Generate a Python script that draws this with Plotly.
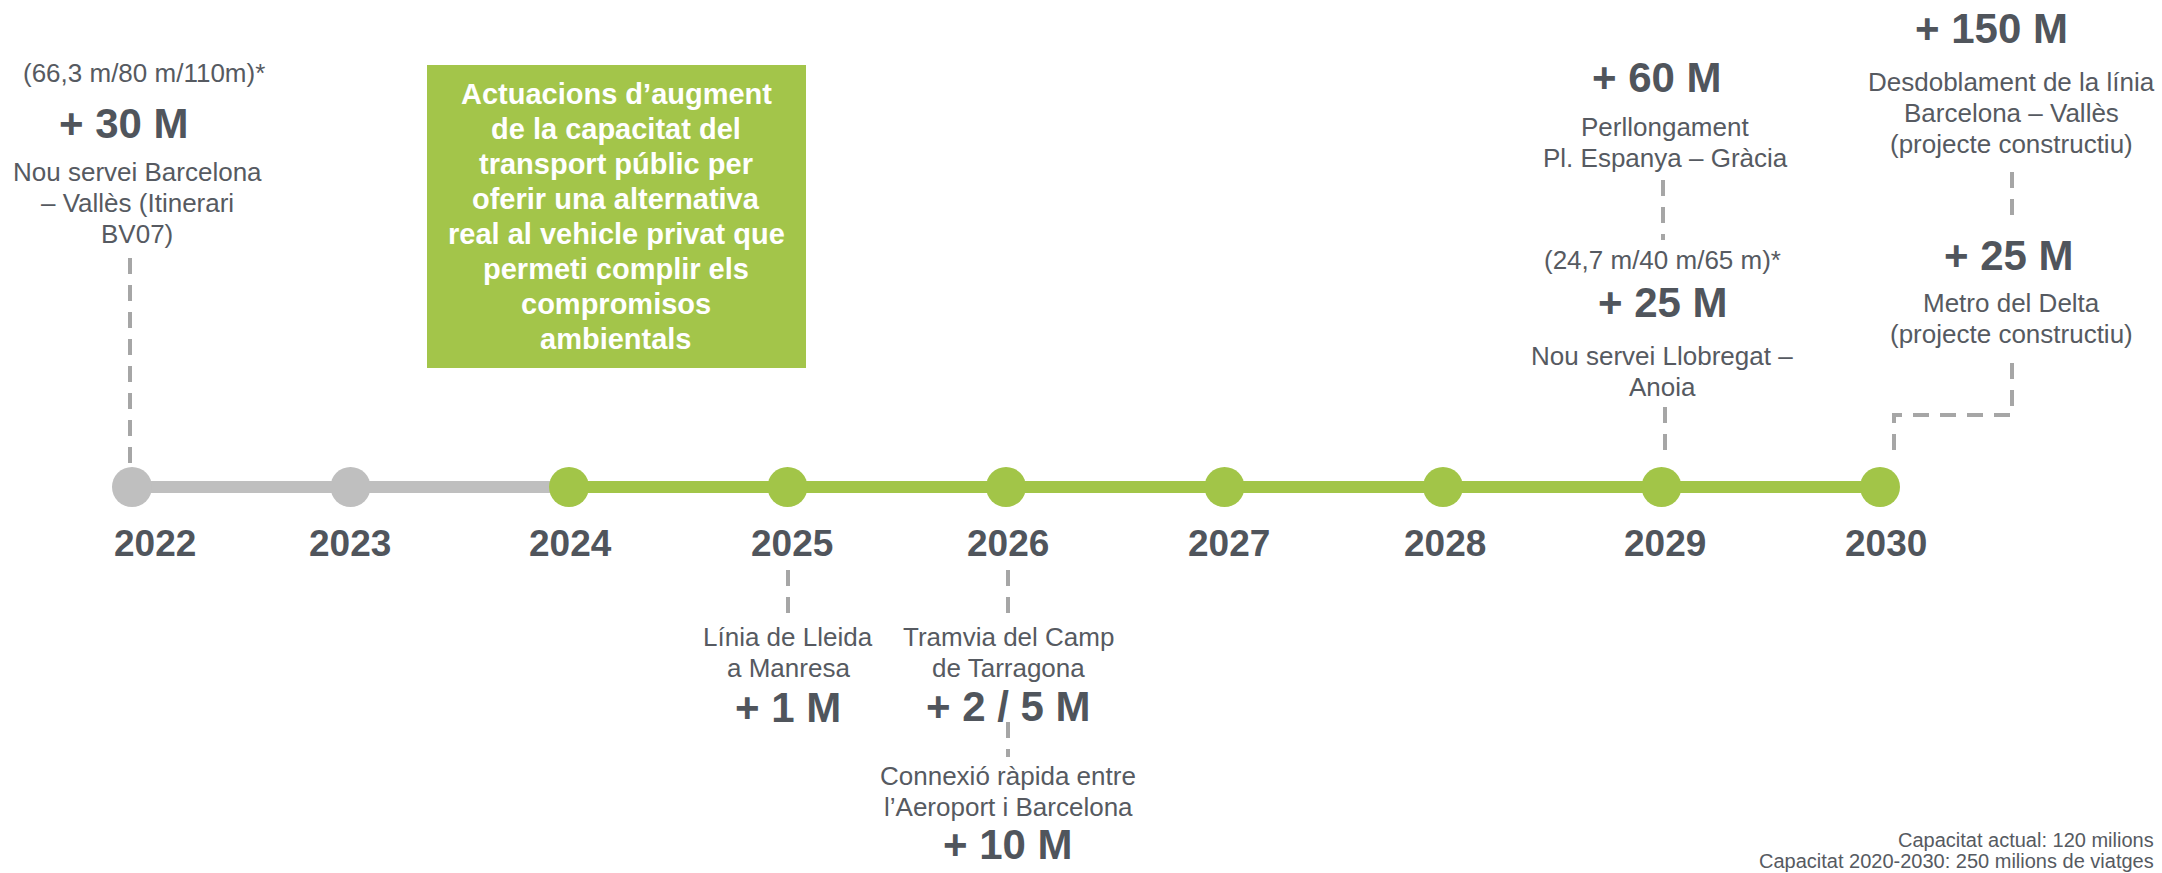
import plotly.graph_objects as go

# ---------------- data ----------------
years = [2022, 2023, 2024, 2025, 2026, 2027, 2028, 2029, 2030]
year_labels = ["2022", "2023", "2024", "2025", "2026", "2027", "2028", "2029", "2030"]
done_years = [2022, 2023, 2024]
plan_years = [2024, 2025, 2026, 2027, 2028, 2029, 2030]

act_years = [2022, 2025, 2026, 2026, 2029, 2029, 2030, 2030]
act_amounts = ["+ 30 M", "+ 1 M", "+ 2 / 5 M", "+ 10 M", "+ 25 M", "+ 60 M", "+ 25 M", "+ 150 M"]
act_desc = [
    ["Nou servei Barcelona", "– Vallès (Itinerari", "BV07)"],
    ["Línia de Lleida", "a Manresa"],
    ["Tramvia del Camp", "de Tarragona"],
    ["Connexió ràpida entre", "l’Aeroport i Barcelona"],
    ["Nou servei Llobregat –", "Anoia"],
    ["Perllongament", "Pl. Espanya – Gràcia"],
    ["Metro del Delta", "(projecte constructiu)"],
    ["Desdoblament de la línia", "Barcelona – Vallès", "(projecte constructiu)"],
]
act_notes = ["(66,3 m/80 m/110m)*", "", "", "", "(24,7 m/40 m/65 m)*", "", "", ""]

box_lines = [
    "Actuacions d’augment",
    "de la capacitat del",
    "transport públic per",
    "oferir una alternativa",
    "real al vehicle privat que",
    "permeti complir els",
    "compromisos",
    "ambientals",
]
footnote_lines = ["Capacitat actual: 120 milions", "Capacitat 2020-2030: 250 milions de viatges"]

# ---------------- layout / style ----------------
W, H = 2162, 873
PX0, PPY = 132.0, 218.5          # pixel of 2022 node, pixels per year
LINE_Y = 487
GREEN = "#A2C548"
GREY = "#BFBFBF"
DASH_C = "#A6A6A6"
DARK = "#50555C"
BODY = "#565A61"
FONT = "Liberation Sans, Arial, sans-serif"


def node_px(year):
    return PX0 + (year - 2022) * PPY


def xdata(year, px):
    """data x for a pixel position, expressed relative to a year"""
    return year + (px - node_px(year)) / PPY


# per action layout: (amount cx, amount cy, desc cx, desc first y, note cx, note cy)
act_pos = [
    (124, 123, 137, 172, 144, 73),
    (788, 707, 788, 637, None, None),
    (1008, 706, 1008, 637, None, None),
    (1008, 844, 1008, 776, None, None),
    (1663, 302, 1662, 356, 1662, 260),
    (1657, 77, 1665, 127, None, None),
    (2009, 255, 2011, 303, None, None),
    (1991, 28, 2011, 82, None, None),
]
DESC_STEP = 31

# dashed connectors: (year, [(px, py), ...])
connectors = [
    (2022, [(130, 258), (130, 470)]),
    (2025, [(788, 570), (788, 613)]),
    (2026, [(1008, 570), (1008, 613)]),
    (2026, [(1008, 722), (1008, 757)]),
    (2029, [(1663, 180), (1663, 240)]),
    (2029, [(1665, 407), (1665, 452)]),
    (2030, [(2012, 172), (2012, 217)]),
    (2030, [(2012, 363), (2012, 415), (1894, 415), (1894, 460)]),
]
year_label_dx = [23, -1, 1, 4, 2, 4, 2, 3, 6]

fig = go.Figure()

# connectors
for yr, pts in connectors:
    fig.add_trace(go.Scatter(
        x=[xdata(yr, p[0]) for p in pts], y=[p[1] for p in pts],
        mode="lines", line=dict(color=DASH_C, width=4, dash="16px,11px"),
        hoverinfo="skip", showlegend=False))

# timeline
fig.add_trace(go.Scatter(x=done_years, y=[LINE_Y] * len(done_years), mode="lines",
                         line=dict(color=GREY, width=12), hoverinfo="skip", showlegend=False))
fig.add_trace(go.Scatter(x=plan_years, y=[LINE_Y] * len(plan_years), mode="lines",
                         line=dict(color=GREEN, width=12), hoverinfo="skip", showlegend=False))
fig.add_trace(go.Scatter(x=done_years[:-1], y=[LINE_Y] * (len(done_years) - 1), mode="markers",
                         marker=dict(color=GREY, size=40, line=dict(width=0)),
                         hoverinfo="x", showlegend=False))
fig.add_trace(go.Scatter(x=plan_years, y=[LINE_Y] * len(plan_years), mode="markers",
                         marker=dict(color=GREEN, size=40, line=dict(width=0)),
                         hoverinfo="x", showlegend=False))

ann = []


def add_text(year, cx, cy, text, size, bold=False, color=BODY, xanchor="center"):
    ann.append(dict(
        x=xdata(year, cx), y=cy, xref="x", yref="y", text=f"<b>{text}</b>" if bold else text,
        showarrow=False, xanchor=xanchor, yanchor="middle",
        font=dict(family=FONT, size=size, color=color)))


# year labels
for yr, lab, dx in zip(years, year_labels, year_label_dx):
    add_text(yr, node_px(yr) + dx, 543, lab, 37, bold=True, color=DARK)

# actions
for yr, amt, desc, note, pos in zip(act_years, act_amounts, act_desc, act_notes, act_pos):
    acx, acy, dcx, dy0, ncx, ncy = pos
    add_text(yr, acx, acy, amt, 42, bold=True, color=DARK)
    for i, line in enumerate(desc):
        add_text(yr, dcx, dy0 + i * DESC_STEP, line, 26)
    if note:
        add_text(yr, ncx, ncy, note, 26)

# green box
fig.add_shape(type="rect", xref="x", yref="y", x0=xdata(2024, 427), x1=xdata(2024, 806),
              y0=65, y1=368, fillcolor="#A3C54A", line=dict(width=0), layer="below")
for i, line in enumerate(box_lines):
    add_text(2024, 616, 94 + i * 35, line, 29, bold=True, color="#FFFFFF")

# footnote
add_text(2030, 2156, 840, footnote_lines[0], 20, xanchor="right")
add_text(2030, 2156, 861, footnote_lines[1], 20, xanchor="right")

fig.update_layout(
    width=W, height=H,
    margin=dict(l=0, r=0, t=0, b=0),
    paper_bgcolor="white", plot_bgcolor="white",
    xaxis=dict(range=[xdata(2022, 0), xdata(2022, W)], visible=False, fixedrange=True),
    yaxis=dict(range=[H, 0], visible=False, fixedrange=True),
    annotations=ann,
    showlegend=False,
)

fig.write_html("out.html", config={"displayModeBar": False},
               post_script="document.body.style.margin='0';document.body.style.overflow='hidden';")
